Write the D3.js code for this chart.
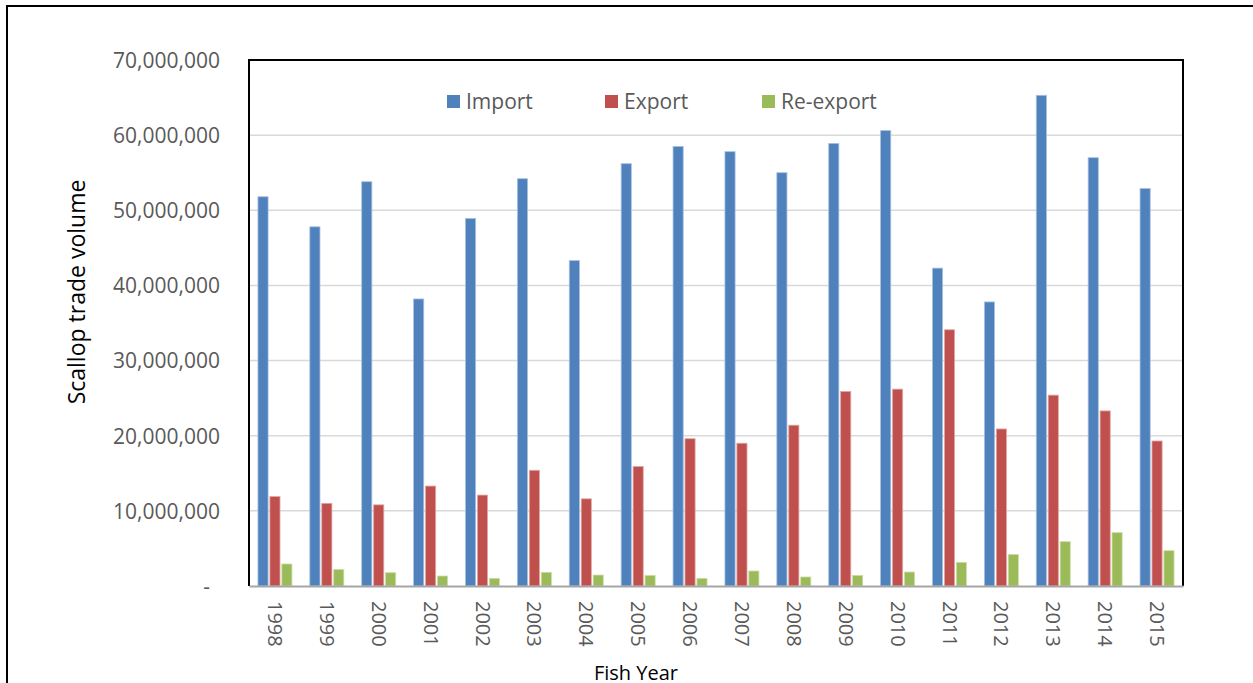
<!DOCTYPE html>
<html>
<head>
<meta charset="utf-8">
<script src="https://cdn.jsdelivr.net/npm/d3@7"></script>
<style>
  html, body { margin: 0; padding: 0; background: #fff; }
  svg { display: block; }
  text { font-family: "Open Sans", "Noto Sans", sans-serif; }
</style>
</head>
<body>
<svg id="chart" width="1253" height="683"></svg>
<script>
// Scallop trade by fish year (pounds)
const years = ["1998","1999","2000","2001","2002","2003","2004","2005","2006",
               "2007","2008","2009","2010","2011","2012","2013","2014","2015"];
const importVals = [51800000, 47800000, 53800000, 38200000, 48900000, 54200000,
                    43300000, 56200000, 58500000, 57800000, 55000000, 58900000,
                    60600000, 42300000, 37800000, 65300000, 57000000, 52900000];
const exportVals = [11900000, 11000000, 10800000, 13300000, 12100000, 15400000,
                    11600000, 15900000, 19600000, 19000000, 21400000, 25900000,
                    26200000, 34100000, 20900000, 25400000, 23300000, 19300000];
const reexportVals = [2930000, 2200000, 1770000, 1330000, 1020000, 1820000,
                      1460000, 1420000, 1020000, 2000000, 1200000, 1420000,
                      1860000, 3150000, 4200000, 5900000, 7100000, 4700000];
const seriesNames = ["Import", "Export", "Re-export"];
const seriesColors = ["#4f81bd", "#c0504d", "#9bbb59"];
const seriesStrokes = ["#a7c0de", "#e0a8a6", "#cddeac"];
const yTicks = [0, 10000000, 20000000, 30000000, 40000000, 50000000, 60000000, 70000000];

const svg = d3.select("#chart");

// outer figure frame
svg.append("rect")
  .attr("x", 7).attr("y", 6)
  .attr("width", 1260).attr("height", 700)
  .attr("fill", "none").attr("stroke", "#000").attr("stroke-width", 2);

const plot = { left: 249, right: 1183, top: 60, bottom: 586 };

const x = d3.scaleBand().domain(years).range([plot.left, plot.right]).padding(0);
const y = d3.scaleLinear().domain([0, 70000000]).range([plot.bottom, plot.top]);

const bw = x.bandwidth();
const xs = d3.scaleBand().domain(seriesNames)
  .range([bw / 2 - 17, bw / 2 + 17]).paddingInner(0.15).paddingOuter(0);

// gridlines
svg.append("g")
  .selectAll("line")
  .data(yTicks.filter(d => d > 0))
  .join("line")
  .attr("x1", plot.left).attr("x2", plot.right)
  .attr("y1", d => y(d)).attr("y2", d => y(d))
  .attr("stroke", "#d9d9d9").attr("stroke-width", 1.5);

// y axis labels
const fmt = d3.format(",");
const yAxis = d3.axisLeft(y).tickValues(yTicks)
  .tickSize(0).tickPadding(0)
  .tickFormat(d => d === 0 ? "-" : fmt(d));
const yg = svg.append("g").attr("transform", `translate(220,0)`).call(yAxis);
yg.select(".domain").remove();
yg.selectAll("text")
  .attr("fill", "#595959")
  .style("font-size", "21px")
  .style("font-family", "'Open Sans', sans-serif")
  .attr("dy", "0.35em")
  .attr("x", d => d === 0 ? -10 : 0);

// bars
const rows = years.map((yr, i) => ({ year: yr, vals: [importVals[i], exportVals[i], reexportVals[i]] }));
const groups = svg.append("g").selectAll("g")
  .data(rows).join("g")
  .attr("transform", d => `translate(${x(d.year)},0)`);
groups.selectAll("rect")
  .data(d => d.vals.map((v, k) => ({ k, v })))
  .join("rect")
  .attr("x", d => xs(seriesNames[d.k]))
  .attr("width", xs.bandwidth())
  .attr("y", d => y(d.v))
  .attr("height", d => y(0) - y(d.v))
  .attr("fill", d => seriesColors[d.k])
  .attr("stroke", d => seriesStrokes[d.k])
  .attr("stroke-width", 0.8);

// plot frame
svg.append("path")
  .attr("d", `M${plot.left},${plot.bottom} V${plot.top} H${plot.right} V${plot.bottom}`)
  .attr("fill", "none").attr("stroke", "#000").attr("stroke-width", 2);

// x axis
const xAxis = d3.axisBottom(x).tickSize(0).tickPadding(0);
const xg = svg.append("g").attr("transform", `translate(0,${plot.bottom})`).call(xAxis);
xg.select(".domain").attr("stroke", "#a6a6a6").attr("stroke-width", 2);
xg.selectAll("text")
  .attr("fill", "#595959")
  .style("font-size", "20px")
  .style("font-family", "'Open Sans', sans-serif")
  .attr("text-anchor", "start")
  .attr("transform", "translate(0,15) rotate(90)")
  .attr("y", 0).attr("x", 0)
  .attr("dy", "0.35em");

// axis titles
svg.append("text")
  .attr("transform", `translate(85,292) rotate(-90)`)
  .attr("text-anchor", "middle")
  .attr("fill", "#000")
  .style("font-size", "23px")
  .text("Scallop trade volume");

svg.append("text")
  .attr("x", 636).attr("y", 680)
  .attr("text-anchor", "middle")
  .attr("fill", "#000")
  .style("font-size", "20px")
  .text("Fish Year");

// legend
const legendX = [447, 605, 762];
const lg = svg.append("g").selectAll("g")
  .data(seriesNames).join("g")
  .attr("transform", (d, i) => `translate(${legendX[i]},95)`);
lg.append("rect")
  .attr("width", 13).attr("height", 13)
  .attr("fill", (d, i) => seriesColors[i]);
lg.append("text")
  .attr("x", 19).attr("y", 14)
  .attr("fill", "#595959")
  .style("font-size", "21px")
  .text(d => d);
</script>
</body>
</html>
